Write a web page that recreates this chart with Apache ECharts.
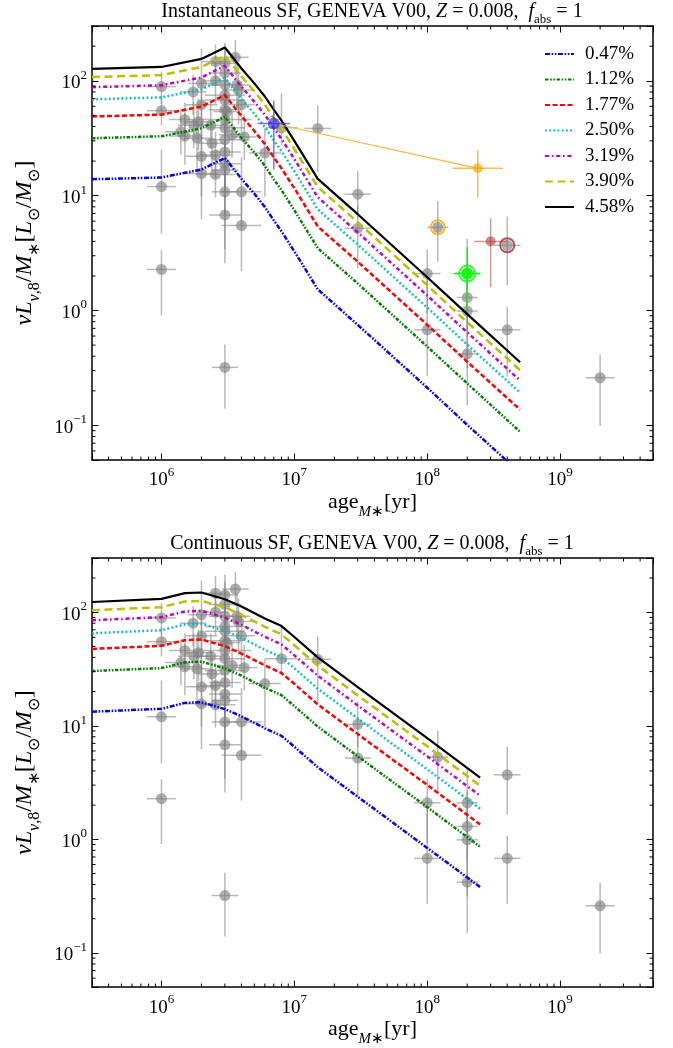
<!DOCTYPE html>
<html><head><meta charset="utf-8">
<script src="https://cdn.jsdelivr.net/npm/echarts@6/dist/echarts.min.js"></script>
<style>html,body{margin:0;padding:0;background:#fff}#c{width:673px;height:1048px}</style>
</head><body><div id="c"></div><script>
// ---------------- data ----------------
const modelLabels = ['0.47%', '1.12%', '1.77%', '2.50%', '3.19%', '3.90%', '4.58%'];

// Instantaneous SF models (top panel)
const instAges = [3e5, 1e6, 2e6, 3e6, 4e6, 5e6, 6e6, 7e6, 8e6, 1e7, 1.5e7, 3e7, 1e8, 2e8, 5e8];
const inst047 = [13.9, 14.4, 16.9, 21.3, 14.0, 10.4, 7.96, 6.1, 4.9, 3.27, 1.53, 0.75, 0.213, 0.101, 0.0387];
const inst112 = [31.6, 32.9, 38.6, 48.6, 31.9, 23.7, 18.2, 13.9, 11.2, 7.47, 3.49, 1.72, 0.486, 0.232, 0.088];
const inst177 = [48.9, 50.8, 59.7, 75.1, 49.3, 36.6, 28.1, 21.6, 17.3, 11.6, 5.39, 2.66, 0.751, 0.358, 0.137];
const inst250 = [69.0, 71.7, 84.2, 106, 69.5, 51.6, 39.6, 30.4, 24.4, 16.3, 7.6, 3.75, 1.06, 0.505, 0.193];
const inst319 = [88.0, 91.5, 107, 135, 88.7, 65.8, 50.6, 38.8, 31.2, 20.8, 9.7, 4.78, 1.35, 0.645, 0.246];
const inst390 = [108, 112, 132, 166, 109, 81, 62, 47.6, 38.3, 25.5, 11.9, 5.87, 1.66, 0.79, 0.302];
const inst458 = [127, 132, 155, 195, 128, 95, 73, 56, 45, 30, 14, 6.9, 1.95, 0.93, 0.355];

// Continuous SF models (bottom panel)
const contAges = [3e5, 1e6, 1.5e6, 2e6, 3e6, 4e6, 6e6, 8e6, 1e7, 1.5e7, 3e7, 1e8, 2.5e8];
const cont047 = [13.3, 14.1, 15.9, 16.1, 14.0, 12.1, 9.5, 8.15, 6.53, 4.32, 2.37, 0.84, 0.38];
const cont112 = [30.3, 32.2, 36.2, 36.7, 32.0, 27.6, 21.6, 18.6, 14.9, 9.84, 5.39, 1.92, 0.86];
const cont177 = [47.5, 50.6, 56.7, 57.5, 50.2, 43.2, 34.0, 29.1, 23.4, 15.4, 8.45, 3.01, 1.35];
const cont250 = [65.2, 69.4, 77.9, 79.0, 68.9, 59.4, 46.6, 40.0, 32.1, 21.2, 11.6, 4.13, 1.86];
const cont319 = [84.9, 90.4, 101.4, 102.8, 89.7, 77.3, 60.7, 52.1, 41.7, 27.6, 15.1, 5.38, 2.42];
const cont390 = [104, 110.7, 124.2, 125.9, 109.9, 94.6, 74.4, 63.8, 51.1, 33.8, 18.5, 6.59, 2.96];
const cont458 = [123, 131, 147, 149, 130, 112, 88, 75.5, 60.5, 40, 21.9, 7.8, 3.5];

// Observed clusters (gray points), errors in dex
const obsAge = [1e6, 1e6, 1e6, 1e6, 1.4e6, 1.5e6, 1.5e6, 1.73e6, 1.75e6, 1.85e6,
  1.9e6, 2e6, 2e6, 2e6, 2e6, 2.35e6, 2.4e6, 2.55e6, 2.55e6, 2.55e6,
  2.55e6, 3e6, 3e6, 3e6, 3e6, 3e6, 3e6, 3e6, 3e6, 3e6,
  3e6, 3e6, 3e6, 3e6, 3e6, 3e6, 3.1e6, 3.4e6, 3.6e6, 3.7e6,
  3.8e6, 4e6, 4.2e6, 4e6, 4e6, 6e6, 8e6, 1.5e7, 3e7, 3e7,
  1e8, 1e8, 1.2e8, 2e8, 2e8, 2e8, 2e8, 4e8, 4e8, 2e9];
const obsVal = [89, 55, 12, 2.28, 36, 46, 33, 80, 41, 31.7,
  44, 95, 62, 22, 15.6, 41, 28.6, 100, 147, 22.6,
  15.3, 142, 117, 92, 75, 68, 56, 46, 39, 30.7,
  24, 19, 16.7, 10.8, 6.8, 0.32, 54, 34, 160, 92,
  83, 62, 32.5, 10.8, 5.5, 23.5, 39, 38.5, 10.3, 5.2,
  2.1, 0.68, 5.3, 2.1, 1.3, 0.99, 0.42, 3.7, 0.68, 0.26];
const obsAgeErr = [0.11, 0.11, 0.11, 0.11, 0.12, 0.12, 0.12, 0.1, 0.12, 0.1,
  0.1, 0.1, 0.12, 0.12, 0.12, 0.1, 0.1, 0.1, 0.1, 0.12,
  0.15, 0.1, 0.12, 0.12, 0.15, 0.15, 0.12, 0.2, 0.15, 0.15,
  0.12, 0.12, 0.1, 0.1, 0.12, 0.1, 0.1, 0.1, 0.1, 0.1,
  0.12, 0.1, 0.1, 0.15, 0.15, 0.12, 0.12, 0.1, 0.1, 0.1,
  0.1, 0.1, 0.08, 0.08, 0.08, 0.08, 0.08, 0.1, 0.1, 0.11];
const obsValErrDn = [0.15, 0.13, 0.41, 0.4, 0.2, 0.18, 0.25, 0.2, 0.2, 0.3,
  0.25, 0.3, 0.3, 0.35, 0.4, 0.2, 0.25, 0.2, 0.2, 0.2,
  0.2, 0.2, 0.2, 0.25, 0.3, 0.2, 0.25, 0.3, 0.3, 0.3,
  0.3, 0.3, 0.4, 0.5, 0.42, 0.36, 0.2, 0.2, 0.15, 0.2,
  0.3, 0.25, 0.2, 0.3, 0.4, 0.38, 0.15, 0.38, 0.2, 0.35,
  0.35, 0.4, 0.3, 0.3, 0.3, 0.5, 0.45, 0.35, 0.4, 0.42];
const obsValErrUp = [0.13, 0.13, 0.32, 0.17, 0.2, 0.15, 0.2, 0.15, 0.2, 0.25,
  0.2, 0.3, 0.2, 0.3, 0.3, 0.2, 0.2, 0.2, 0.15, 0.2,
  0.2, 0.18, 0.2, 0.2, 0.25, 0.2, 0.3, 0.25, 0.3, 0.3,
  0.3, 0.35, 0.3, 0.35, 0.4, 0.2, 0.2, 0.2, 0.15, 0.2,
  0.2, 0.2, 0.2, 0.3, 0.3, 0.22, 0.3, 0.2, 0.2, 0.2,
  0.21, 0.45, 0.23, 0.3, 0.3, 0.3, 0.4, 0.25, 0.2, 0.2];

// Highlighted objects (top panel): [age, value, ageErr(dex), valErrDn(dex), valErrUp(dex)]
const bluePt = [7e6, 42.5, 0.12, 0.4, 0.2];
const orangePt = [2.4e8, 17.3, 0.19, 0.25, 0.16];
const brownPt = [3e8, 4.0, 0.125, 0.4, 0.2];
const limePt = [2e8, 2.1, 0.1, 0.32, 0.23];
const orangeRing = [1.2e8, 5.3];
const brownRing = [4e8, 3.7];

// Minor tick values
const minorAgeTicks = [4e5, 5e5, 6e5, 7e5, 8e5, 9e5, 2e6, 3e6, 4e6, 5e6, 6e6, 7e6, 8e6, 9e6,
  2e7, 3e7, 4e7, 5e7, 6e7, 7e7, 8e7, 9e7, 2e8, 3e8, 4e8, 5e8, 6e8, 7e8, 8e8, 9e8, 2e9, 3e9, 4e9];
const minorValTicks = [0.06, 0.07, 0.08, 0.09, 0.2, 0.3, 0.4, 0.5, 0.6, 0.7, 0.8, 0.9,
  2, 3, 4, 5, 6, 7, 8, 9, 20, 30, 40, 50, 60, 70, 80, 90, 200];

const ageRange = [3e5, 5e9];
const valRange = [0.05, 300];

// ---------------- styles ----------------
const FONT = 'Liberation Serif';
const lineStyles = [
  { color: '#0000ff', type: [5, 1.6, 1.6, 1.6, 1.6, 1.6], width: 2.5 },
  { color: '#008000', type: [3.5, 1.6, 1.6, 1.6, 1.6, 1.6], width: 2.5 },
  { color: '#ff0000', type: [5, 2.5], width: 2.5 },
  { color: '#00bfbf', type: [1.8, 2.4], width: 2.5 },
  { color: '#bf00bf', type: [4, 2.8, 1.6, 2.8], width: 2.5 },
  { color: '#bfbf00', type: [8, 4.5], width: 2.5 },
  { color: '#000000', type: 'solid', width: 2.2 }
];
const instSets = [inst047, inst112, inst177, inst250, inst319, inst390, inst458];
const contSets = [cont047, cont112, cont177, cont250, cont319, cont390, cont458];

function powLabel(v) {
  const e = Math.round(Math.log10(v));
  if (Math.abs(v / Math.pow(10, e) - 1) > 1e-6) return '';
  return '{b|10}{s|' + (e < 0 ? '\u2212' + (-e) : e) + '}';
}
const tickRich = {
  b: { fontFamily: FONT, fontSize: 19, color: '#000', lineHeight: 24, verticalAlign: 'bottom' },
  s: { fontFamily: FONT, fontSize: 13, color: '#000', lineHeight: 14, verticalAlign: 'top' }
};

const gridRects = [
  { left: 92, top: 26, width: 561, height: 434 },
  { left: 92, top: 558, width: 561, height: 434 }
];

function nameRichOf(fs) {
  const sfs = Math.round(fs * 0.68);
  return {
    a: { fontFamily: FONT, fontSize: fs, color: '#000', lineHeight: fs + 4, verticalAlign: 'top' },
    i: { fontFamily: FONT, fontSize: fs, fontStyle: 'italic', color: '#000', lineHeight: fs + 4, verticalAlign: 'top' },
    si: { fontFamily: FONT, fontSize: sfs, fontStyle: 'italic', color: '#000', lineHeight: sfs + 1, padding: [Math.round(fs * 0.62), 0, 0, 0], verticalAlign: 'top' },
    ss: { fontFamily: FONT, fontSize: sfs, color: '#000', lineHeight: sfs + 1, padding: [Math.round(fs * 0.62), 0, 0, 0], verticalAlign: 'top' }
  };
}

function xAxisDef(gi, pos, showLabel) {
  return {
    type: 'log', logBase: 10, gridIndex: gi, position: pos, min: ageRange[0], max: ageRange[1],
    axisLine: { show: true, onZero: false, lineStyle: { color: '#000', width: 1.5 } },
    axisTick: { show: true, inside: true, length: 6.5, lineStyle: { color: '#000', width: 1 } },
    axisLabel: { show: showLabel, formatter: powLabel, rich: tickRich, margin: 6, color: '#000' },
    splitLine: { show: false },
    name: showLabel ? '{a|age}{si|M}{ss|\u2217}{a|[yr]}' : '',
    nameLocation: 'middle', nameGap: 24,
    nameTextStyle: { rich: nameRichOf(22) }
  };
}
function yAxisDef(gi, pos, showLabel) {
  return {
    type: 'log', logBase: 10, gridIndex: gi, position: pos, min: valRange[0], max: valRange[1],
    axisLine: { show: true, onZero: false, lineStyle: { color: '#000', width: 1.5 } },
    axisTick: { show: true, inside: true, length: 6.5, lineStyle: { color: '#000', width: 1 } },
    axisLabel: { show: showLabel, formatter: powLabel, rich: tickRich, margin: 5, color: '#000' },
    splitLine: { show: false },
    name: showLabel ? '{i|\u03bd}{i|L}{si|\u03bd}{ss|,8}{a|/}{i|M}{ss|\u2217}{a|[}{i|L}{ss|\u2299}{a|/}{i|M}{ss|\u2299}{a|]}' : '',
    nameLocation: 'middle', nameGap: 32, nameRotate: 90,
    nameTextStyle: { rich: nameRichOf(24) }
  };
}

function errRender(color, w) {
  return function (params, api) {
    const c = api.coord([api.value(0), api.value(1)]);
    const xl = api.coord([api.value(2), api.value(1)]);
    const xh = api.coord([api.value(3), api.value(1)]);
    const yl = api.coord([api.value(0), api.value(4)]);
    const yh = api.coord([api.value(0), api.value(5)]);
    return {
      type: 'group', children: [
        { type: 'line', shape: { x1: xl[0], y1: c[1], x2: xh[0], y2: c[1] }, style: { stroke: color, lineWidth: w } },
        { type: 'line', shape: { x1: c[0], y1: yl[1], x2: c[0], y2: yh[1] }, style: { stroke: color, lineWidth: w } }
      ]
    };
  };
}
function errData(ages, vals, ae, vd, vu) {
  return ages.map((a, i) => [a, vals[i], a / Math.pow(10, ae[i]), a * Math.pow(10, ae[i]),
    vals[i] / Math.pow(10, vd[i]), vals[i] * Math.pow(10, vu[i])]);
}
function errSeries(gi, data, color, w, z) {
  return {
    type: 'custom', xAxisIndex: gi * 2, yAxisIndex: gi * 2, data: data,
    encode: { x: [0, 2, 3], y: [1, 4, 5] }, renderItem: errRender(color, w),
    clip: true, silent: true, z: z, animation: false
  };
}
function ptSeries(gi, data, color, size, z) {
  return {
    type: 'scatter', xAxisIndex: gi * 2, yAxisIndex: gi * 2, data: data, symbol: 'circle',
    symbolSize: size, itemStyle: { color: color }, silent: true, z: z, animation: false
  };
}
function ringSeries(gi, data, color, size, z) {
  return {
    type: 'scatter', xAxisIndex: gi * 2, yAxisIndex: gi * 2, data: data, symbol: 'circle',
    symbolSize: size, itemStyle: { color: 'rgba(0,0,0,0)', borderColor: color, borderWidth: 2 },
    silent: true, z: z, animation: false
  };
}
function minorSeries(gi) {
  const L = 3.5;
  return [{
    type: 'custom', xAxisIndex: gi * 2, yAxisIndex: gi * 2, data: minorAgeTicks.map(v => [v, 1]),
    encode: { x: 0, y: 1 }, silent: true, z: 10, animation: false,
    renderItem: function (params, api) {
      const p = api.coord([api.value(0), 1]);
      const cs = params.coordSys;
      const st = { stroke: '#000', lineWidth: 1 };
      return { type: 'group', children: [
        { type: 'line', shape: { x1: p[0], y1: cs.y + cs.height, x2: p[0], y2: cs.y + cs.height - L }, style: st },
        { type: 'line', shape: { x1: p[0], y1: cs.y, x2: p[0], y2: cs.y + L }, style: st }
      ] };
    }
  }, {
    type: 'custom', xAxisIndex: gi * 2, yAxisIndex: gi * 2, data: minorValTicks.map(v => [1e6, v]),
    encode: { x: 0, y: 1 }, silent: true, z: 10, animation: false,
    renderItem: function (params, api) {
      const p = api.coord([1e6, api.value(1)]);
      const cs = params.coordSys;
      const st = { stroke: '#000', lineWidth: 1 };
      return { type: 'group', children: [
        { type: 'line', shape: { x1: cs.x, y1: p[1], x2: cs.x + L, y2: p[1] }, style: st },
        { type: 'line', shape: { x1: cs.x + cs.width, y1: p[1], x2: cs.x + cs.width - L, y2: p[1] }, style: st }
      ] };
    }
  }];
}
function modelSeries(gi, ages, sets) {
  return sets.map((vals, k) => ({
    type: 'line', name: modelLabels[k], xAxisIndex: gi * 2, yAxisIndex: gi * 2,
    data: ages.map((a, i) => [a, vals[i]]), symbol: 'none', smooth: false,
    lineStyle: lineStyles[k], itemStyle: { color: lineStyles[k].color },
    silent: true, z: 5, animation: false
  }));
}

const obsErr = errData(obsAge, obsVal, obsAgeErr, obsValErrDn, obsValErrUp);
const obsPts = obsAge.map((a, i) => [a, obsVal[i]]);
function one(p) { return errData([p[0]], [p[1]], [p[2]], [p[3]], [p[4]]); }

const series = [].concat(
  // top panel
  [errSeries(0, obsErr, 'rgba(128,128,128,0.55)', 1.5, 1), ptSeries(0, obsPts, 'rgba(128,128,128,0.8)', 11, 2)],
  modelSeries(0, instAges, instSets),
  [
    { type: 'line', xAxisIndex: 0, yAxisIndex: 0, data: [[bluePt[0], bluePt[1]], [orangePt[0], orangePt[1]]],
      symbol: 'none', lineStyle: { color: '#ffb347', width: 1.2 }, silent: true, z: 6, animation: false },
    errSeries(0, one(bluePt), 'rgba(70,70,255,0.75)', 1.5, 7),
    ptSeries(0, [[bluePt[0], bluePt[1]]], 'rgba(55,45,215,0.85)', 12, 8),
    errSeries(0, one(orangePt), 'rgba(255,170,30,0.8)', 1.5, 7),
    ptSeries(0, [[orangePt[0], orangePt[1]]], 'rgba(255,165,0,0.85)', 10, 8),
    errSeries(0, one(brownPt), 'rgba(175,70,70,0.55)', 1.5, 7),
    ptSeries(0, [[brownPt[0], brownPt[1]]], 'rgba(170,60,60,0.75)', 10, 8),
    errSeries(0, one(limePt), 'rgba(0,255,0,1)', 1.5, 7),
    ptSeries(0, [[limePt[0], limePt[1]]], '#00ff00', 12, 8),
    ringSeries(0, [[limePt[0], limePt[1]]], '#00ff00', 16, 9),
    ringSeries(0, [orangeRing], '#ffa500', 14, 9),
    ringSeries(0, [brownRing], '#a52a2a', 14, 9)
  ],
  minorSeries(0),
  // bottom panel
  [errSeries(1, obsErr, 'rgba(128,128,128,0.55)', 1.5, 1), ptSeries(1, obsPts, 'rgba(128,128,128,0.8)', 11, 2)],
  modelSeries(1, contAges, contSets),
  minorSeries(1)
);

const titleRich = {
  n: { fontFamily: FONT, fontSize: 20, fontWeight: 'normal', color: '#000', lineHeight: 24, verticalAlign: 'top' },
  i: { fontFamily: FONT, fontSize: 20, fontWeight: 'normal', fontStyle: 'italic', color: '#000', lineHeight: 24, verticalAlign: 'top' },
  sub: { fontFamily: FONT, fontSize: 13, fontWeight: 'normal', color: '#000', lineHeight: 14, padding: [11, 0, 0, 0], verticalAlign: 'top' }
};

const chart = echarts.init(document.getElementById('c'), null, { renderer: 'canvas' });
chart.setOption({
  backgroundColor: '#fff',
  animation: false,
  title: [
    { text: '{n|Instantaneous SF, GENEVA V00, }{i|Z}{n| = 0.008,  }{i|f}{sub|abs}{n| = 1}',
      left: 372, top: 2, textAlign: 'center', padding: 0, textStyle: { fontWeight: 'normal', rich: titleRich } },
    { text: '{n|Continuous SF, GENEVA V00, }{i|Z}{n| = 0.008,  }{i|f}{sub|abs}{n| = 1}',
      left: 372, top: 534, textAlign: 'center', padding: 0, textStyle: { fontWeight: 'normal', rich: titleRich } }
  ],
  legend: {
    data: modelLabels, orient: 'vertical', left: 539, top: 38,
    itemWidth: 29, itemHeight: 12, itemGap: 3.5,
    itemStyle: { opacity: 0 },
    textStyle: { fontFamily: FONT, fontSize: 19, color: '#000', lineHeight: 22, padding: [0, 0, 0, 6] },
    selectedMode: false
  },
  grid: gridRects,
  xAxis: [xAxisDef(0, 'bottom', true), xAxisDef(0, 'top', false), xAxisDef(1, 'bottom', true), xAxisDef(1, 'top', false)],
  yAxis: [yAxisDef(0, 'left', true), yAxisDef(0, 'right', false), yAxisDef(1, 'left', true), yAxisDef(1, 'right', false)],
  series: series
});
</script></body></html>
